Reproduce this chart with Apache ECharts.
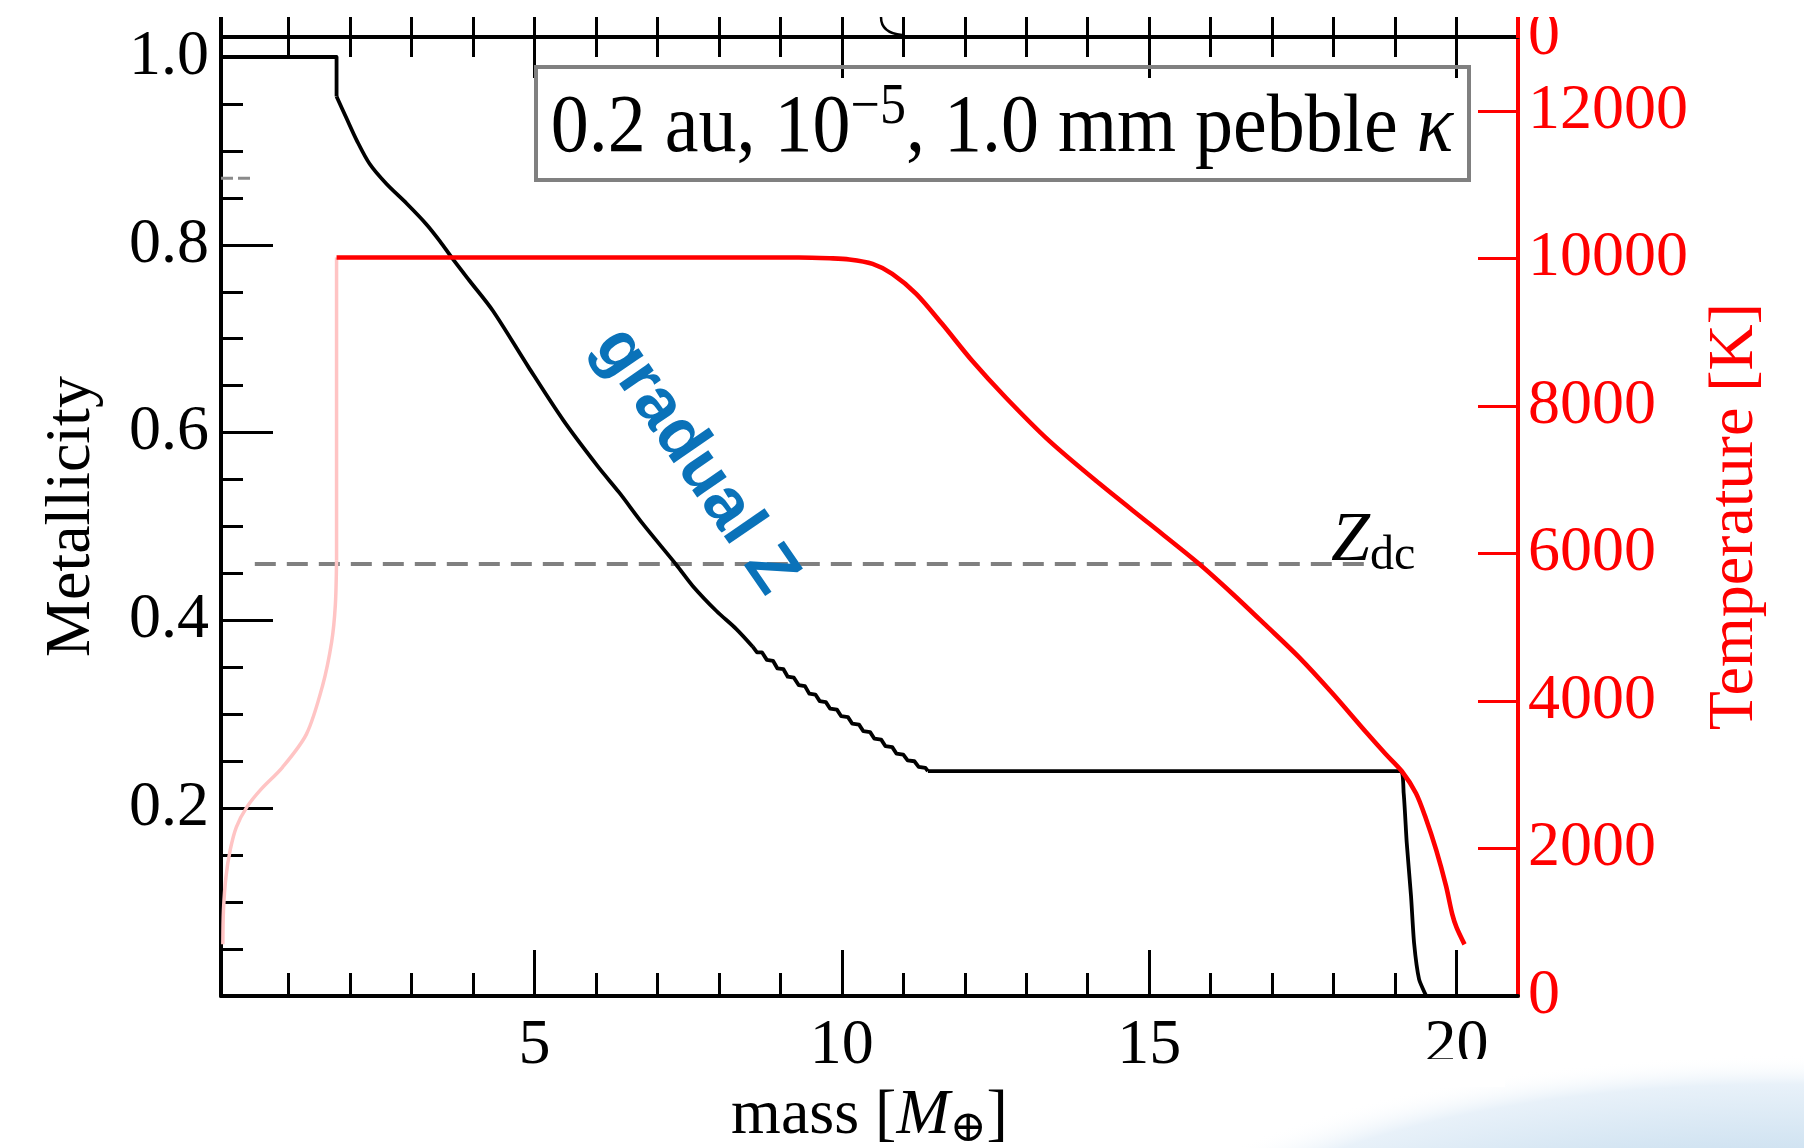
<!DOCTYPE html>
<html><head><meta charset="utf-8">
<script src="https://cdn.jsdelivr.net/npm/echarts@6/dist/echarts.min.js"></script>
<style>html,body{margin:0;padding:0;background:#fff}#c{width:1804px;height:1148px}</style>
</head><body><div id="c"></div>
<script>
// ---- data (mass [M_earth], metallicity / temperature [K]) ----
const zFlat = [[-0.1,1.0],[1.78,1.0],[1.78,0.958]];
const zCurve = [[1.78,0.958],[1.94,0.935],[2.11,0.911],[2.32,0.886],[2.59,0.865],[2.92,0.844],[3.24,0.822],[3.46,0.804],[3.67,0.785],[3.94,0.762],[4.32,0.730],[4.90,0.670],[5.47,0.613],[6.03,0.564],[6.38,0.536],[6.76,0.503],[7.31,0.459],[7.57,0.437],[7.96,0.410],[8.28,0.391],[8.55,0.372]];
const zSteps = [[8.55,0.372],[8.62,0.366],[8.70,0.366],[8.78,0.358],[8.88,0.357],[8.95,0.349],[9.05,0.348],[9.12,0.340],[9.22,0.339],[9.30,0.331],[9.40,0.330],[9.47,0.322],[9.57,0.321],[9.64,0.314],[9.74,0.313],[9.81,0.306],[9.92,0.305],[9.99,0.298],[10.10,0.297],[10.17,0.290],[10.28,0.289],[10.35,0.282],[10.46,0.281],[10.53,0.274],[10.64,0.273],[10.71,0.266],[10.82,0.265],[10.89,0.258],[11.00,0.257],[11.07,0.251],[11.18,0.250],[11.25,0.244],[11.36,0.243],[11.40,0.2394]];
const zPlateau = [[11.40,0.2394],[19.08,0.2394],[19.14,0.216],[19.19,0.163],[19.26,0.106],[19.31,0.056],[19.39,0.018],[19.50,0.001]];
const tempEarlyCurve = [[-0.07,700],[-0.06,1160],[-0.02,1610],[0.05,1980],[0.15,2290],[0.32,2560],[0.55,2800],[0.90,3100],[1.29,3550],[1.55,4200],[1.70,4800],[1.76,5300],[1.78,5900]];
const tempEarlyRise = [[1.78,5900],[1.78,10010]];
const tempMain = [[1.78,10010],[9.30,10010],[9.80,10000],[10.12,9985],[10.50,9925],[10.82,9790],[11.21,9519],[11.63,9112],[12.12,8611],[12.67,8110],[13.37,7528],[14.19,6946],[15.00,6404],[15.81,5860],[16.35,5457],[16.90,5023],[17.44,4590],[17.98,4103],[18.53,3574],[18.85,3277],[19.11,3047],[19.34,2749],[19.50,2410],[19.67,1977],[19.83,1489],[19.93,1110],[20.00,930],[20.13,700]];
const zdcLine = [[0.45,0.46],[18.5,0.46]];
const ghostDash = [[-0.1,0.871],[0.45,0.871]];

// ---- ticks and tick labels ----
const xMajorTicks = [5,10,15,20];
const xMinorTicks = [1,2,3,4,6,7,8,9,11,12,13,14,16,17,18,19];
const xAllTicks = [1,2,3,4,5,6,7,8,9,10,11,12,13,14,15,16,17,18,19,20];
const xTickLabels = [5,10,15,20];
const zMajorTicks = [0.2,0.4,0.6,0.8,1.0];
const zMinorTicks = [0.05,0.1,0.15,0.25,0.3,0.35,0.45,0.5,0.55,0.65,0.7,0.75,0.85,0.9,0.95];
const zTickLabels = ['0.2','0.4','0.6','0.8','1.0'];
const tTicks = [2000,4000,6000,8000,10000,12000];
const tLabelValues = [0,2000,4000,6000,8000,10000,12000,13000];
const tLabelTexts = ['0','2000','4000','6000','8000','10000','12000','0'];

const SERIF = "'Liberation Serif','Times New Roman',serif";
const RED = '#ff0000';

function xAx(extra){
  return Object.assign({type:'value', min:-0.1, max:21, splitLine:{show:false},
    axisLine:{show:false,onZero:false}, axisLabel:{show:false}, axisTick:{show:false}}, extra);
}
function yAx(extra, min, max){
  return Object.assign({type:'value', min:min, max:max, splitLine:{show:false},
    axisLine:{show:false,onZero:false}, axisLabel:{show:false}, axisTick:{show:false}}, extra);
}
function line(name, data, yIdx, color, width, z, smooth, type){
  return {type:'line', name:name, xAxisIndex:0, yAxisIndex:yIdx, data:data, showSymbol:false, symbol:'none',
    silent:true, z:z, smooth:smooth||false,
    lineStyle:{color:color, width:width, type:type||'solid', cap:'butt', join:'round'}};
}

const chart = echarts.init(document.getElementById('c'), null, {renderer:'canvas'});
chart.setOption({
  animation:false,
  backgroundColor:'#ffffff',
  grid:{left:221, right:286, top:37, bottom:152, containLabel:false, outerBoundsMode:'none'},
  xAxis:[
    xAx({position:'bottom',
      axisLine:{show:true,onZero:false,lineStyle:{color:'#000',width:4}},
      axisTick:{show:true,inside:true,length:46,customValues:xMajorTicks,lineStyle:{color:'#000',width:3}},
      axisLabel:{show:true,customValues:xTickLabels,margin:18,fontSize:64,fontFamily:SERIF,color:'#000'},
      name:'{a|mass [}{m|M}{o|⊕}{a|]}', nameLocation:'middle', nameGap:84,
      nameTextStyle:{fontSize:64,fontFamily:SERIF,color:'#000',rich:{
        a:{fontSize:64,fontFamily:SERIF,color:'#000',lineHeight:72,verticalAlign:'middle'},
        m:{fontSize:64,fontFamily:SERIF,fontStyle:'italic',color:'#000',lineHeight:72,verticalAlign:'middle'},
        o:{fontSize:44,fontFamily:"'DejaVu Serif',serif",color:'#000',lineHeight:44,verticalAlign:'bottom'}}}
    }),
    xAx({position:'bottom',
      axisTick:{show:true,inside:true,length:23,customValues:xMinorTicks,lineStyle:{color:'#000',width:3}}}),
    xAx({position:'top',
      axisLine:{show:true,onZero:false,lineStyle:{color:'#000',width:4}},
      axisTick:{show:true,inside:true,length:41,customValues:xMajorTicks,lineStyle:{color:'#000',width:3}}}),
    xAx({position:'top',
      axisTick:{show:true,inside:true,length:20,customValues:xMinorTicks,lineStyle:{color:'#000',width:3}}}),
    xAx({position:'top',
      axisTick:{show:true,inside:false,length:22,customValues:xAllTicks,lineStyle:{color:'#000',width:3}}})
  ],
  yAxis:[
    yAx({position:'left',
      axisLine:{show:true,onZero:false,lineStyle:{color:'#000',width:4}},
      axisTick:{show:true,inside:true,length:52,customValues:zMajorTicks,lineStyle:{color:'#000',width:3}},
      axisLabel:{show:true,customValues:zMajorTicks,margin:12,fontSize:64,fontFamily:SERIF,color:'#000',
        formatter:function(v){const i=zMajorTicks.indexOf(v);return i>=0?zTickLabels[i]:'';}},
      name:'Metallicity', nameLocation:'middle', nameRotate:90, nameGap:117,
      nameTextStyle:{fontSize:64,fontFamily:SERIF,color:'#000'}
    },0,1.0213),
    yAx({position:'left',
      axisTick:{show:true,inside:true,length:22,customValues:zMinorTicks,lineStyle:{color:'#000',width:3}}},0,1.0213),
    yAx({position:'right',
      axisLine:{show:true,onZero:false,lineStyle:{color:RED,width:4}},
      axisTick:{show:true,inside:true,length:40,customValues:tTicks,lineStyle:{color:RED,width:3}},
      axisLabel:{show:true,customValues:tLabelValues,margin:10,fontSize:64,fontFamily:SERIF,color:RED,
        formatter:function(v){const i=tLabelValues.indexOf(v);return i>=0?tLabelTexts[i]:'';}},
      name:'Temperature [K]', nameLocation:'middle', nameRotate:90, nameGap:185,
      nameTextStyle:{fontSize:64,fontFamily:SERIF,color:RED}
    },0,13000)
  ],
  series:[
    line('Zdc', zdcLine, 0, '#808080', 4, 2, false, [21,11]),
    line('ghost', ghostDash, 0, '#8a8a8a', 3, 2, false, [12,5]),
    line('Z flat', zFlat, 0, '#000', 3.8, 3),
    line('Z curve', zCurve, 0, '#000', 3.8, 3, 0.3),
    line('Z steps', zSteps, 0, '#000', 3.8, 3),
    line('Z plateau', zPlateau, 0, '#000', 3.8, 3, 0.2),
    line('T early', tempEarlyCurve, 2, '#ffc4c4', 3.5, 4, 0.3),
    line('T rise', tempEarlyRise, 2, '#ffc4c4', 3.5, 4),
    line('T', tempMain, 2, RED, 4.6, 5, 0.3)
  ],
  graphic:{elements:[
    {type:'circle', x:1780, y:1300, scaleY:0.35, silent:true, z:1,
      shape:{cx:0,cy:0,r:700},
      style:{fill:new echarts.graphic.RadialGradient(0.5,0.5,0.5,[
        {offset:0,color:'#a9cbe6'},{offset:0.6,color:'#cfe2f1'},{offset:0.88,color:'#e8f1f9'},{offset:1,color:'rgba(255,255,255,0)'}])}},
    {type:'rect', silent:true, z:50, shape:{x:1415,y:1059,width:90,height:28}, style:{fill:'#ffffff'}},
    {type:'rect', silent:true, z:20, shape:{x:536,y:67,width:933,height:113},
      style:{fill:'none',stroke:'#808080',lineWidth:4}},
    {type:'text', silent:true, z:21, x:1002, y:129, scaleY:1.08,
      style:{text:'{a|0.2 au, 10}{s|−5}{a|, 1.0 mm pebble }{k|κ}',
        align:'center', verticalAlign:'middle', textAlign:'center', textVerticalAlign:'middle',
        fill:'#000', font:"76px "+SERIF,
        rich:{
          a:{fontSize:76,fontFamily:SERIF,fill:'#000',lineHeight:90,verticalAlign:'middle'},
          s:{fontSize:52,fontFamily:SERIF,fill:'#000',lineHeight:52,verticalAlign:'top'},
          k:{fontSize:76,fontFamily:SERIF,fontStyle:'italic',fill:'#000',lineHeight:90,verticalAlign:'middle'}}}},
    {type:'text', silent:true, z:21, x:1331, y:542,
      style:{text:'{z|Z}{d|dc}', align:'left', verticalAlign:'middle', textAlign:'left', textVerticalAlign:'middle',
        fill:'#000', font:"70px "+SERIF,
        rich:{
          z:{fontSize:70,fontFamily:SERIF,fontStyle:'italic',fill:'#000',lineHeight:76,verticalAlign:'middle'},
          d:{fontSize:48,fontFamily:SERIF,fill:'#000',lineHeight:48,verticalAlign:'bottom'}}}},
    {type:'text', silent:true, z:21, x:695, y:461, rotation:-0.969,
      style:{text:'gradual Z', align:'center', verticalAlign:'middle', textAlign:'center', textVerticalAlign:'middle',
        fill:'#0a72b9', font:"bold 68px 'Liberation Sans', Arial, sans-serif"}},
    {type:'rect', silent:true, z:100, shape:{x:0,y:0,width:1804,height:17}, style:{fill:'#ffffff'}},
    {type:'line', silent:true, z:101, shape:{x1:221,y1:17,x2:221,y2:38}, style:{stroke:'#000',lineWidth:4}},
    {type:'line', silent:true, z:101, shape:{x1:1518,y1:17,x2:1518,y2:38}, style:{stroke:RED,lineWidth:4}},
    {type:'bezierCurve', silent:true, z:101, shape:{x1:881,y1:17,cpx1:881,cpy1:33,x2:902,y2:35},
      style:{stroke:'#000',lineWidth:2.5,fill:'none'}}
  ]}
});
</script>
</body></html>
